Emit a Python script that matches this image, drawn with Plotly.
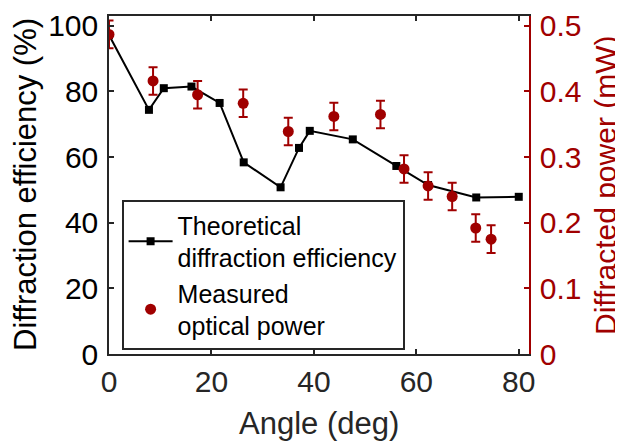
import plotly.graph_objects as go

# Theoretical diffraction efficiency (%) vs angle (deg)
theo_angle = [0, 7.8, 10.7, 16.1, 21.6, 26.3, 33.5, 37.1, 39.2, 47.6, 56.1, 62.3, 71.7, 80.0]
theo_eff = [97.2, 74.4, 81.0, 81.5, 76.5, 58.4, 50.8, 62.8, 68.0, 65.4, 57.3, 51.5, 47.7, 47.9]

# Measured optical power (mW) vs angle (deg)
meas_angle = [0, 8.6, 17.3, 26.2, 35.0, 43.9, 53.0, 57.6, 62.3, 67.0, 71.6, 74.6]
meas_power = [0.487, 0.416, 0.395, 0.382, 0.339, 0.362, 0.365, 0.282, 0.256, 0.240, 0.192, 0.175]
meas_err = [0.021] * len(meas_power)

x_ticks = [0, 20, 40, 60, 80]
y_ticks = [0, 20, 40, 60, 80, 100]
y2_ticks = [0, 0.1, 0.2, 0.3, 0.4, 0.5]
y2_labels = ["0", "0.1", "0.2", "0.3", "0.4", "0.5"]

AX = "#262626"
RED = "#A00000"
FONT = "Liberation Sans, Arial, Helvetica, sans-serif"

fig = go.Figure()
fig.add_trace(go.Scatter(
    x=theo_angle, y=theo_eff, mode="lines+markers",
    name="Theoretical<br>diffraction efficiency",
    line=dict(color="black", width=2),
    marker=dict(symbol="square", size=8, color="black"),
    yaxis="y",
))
fig.add_trace(go.Scatter(
    x=meas_angle, y=meas_power, mode="markers",
    name="Measured<br>optical power",
    marker=dict(symbol="circle", size=11, color=RED),
    error_y=dict(type="data", array=meas_err, visible=True, color=RED, thickness=2, width=4.5),
    yaxis="y2",
))

# page body adds an 8px offset; figure sized so it fits the 623x444 window
fig.update_layout(
    width=615, height=436,
    margin=dict(l=101, r=94, t=2, b=90),
    paper_bgcolor="white", plot_bgcolor="white",
    font=dict(family=FONT, size=30, color=AX),
    showlegend=True,
    legend=dict(
        x=0.030, y=0.455, xanchor="left", yanchor="top",
        bgcolor="white", bordercolor=AX, borderwidth=2,
        font=dict(size=25, color="black"),
        tracegroupgap=0, itemwidth=44,
    ),
    xaxis=dict(
        range=[0, 82], tickvals=x_ticks, ticks="inside", ticklen=5, tickwidth=1.5,
        tickcolor=AX, showline=True, linecolor=AX, linewidth=1.5, mirror="ticks",
        showgrid=False, zeroline=False, tickfont=dict(size=30, color=AX),
        ticklabeloverflow="allow",
    ),
    yaxis=dict(
        range=[0, 103], tickvals=y_ticks, ticks="inside", ticklen=5, tickwidth=1.5,
        tickcolor=AX, showline=True, linecolor=AX, linewidth=1.5,
        showgrid=False, zeroline=False, tickfont=dict(size=30, color="black"),
        ticklabeloverflow="allow", ticklabelstandoff=3,
    ),
    yaxis2=dict(
        range=[0, 0.515], tickvals=y2_ticks, ticktext=y2_labels, overlaying="y", side="right",
        ticks="inside", ticklen=5, tickwidth=1.5, tickcolor=RED,
        showline=True, linecolor=RED, linewidth=1.5,
        showgrid=False, zeroline=False, tickfont=dict(size=30, color=RED),
        ticklabeloverflow="allow", ticklabelstandoff=3,
    ),
    annotations=[
        dict(text="Diffraction efficiency (%)", xref="paper", yref="paper", x=0, y=0.5,
             xshift=-84, textangle=-90, showarrow=False, xanchor="center", yanchor="middle",
             font=dict(size=31, color="black")),
        dict(text="Diffracted power (mW)", xref="paper", yref="paper", x=1, y=0.5,
             xshift=76, textangle=-90, showarrow=False, xanchor="center", yanchor="middle",
             font=dict(size=30, color=RED)),
        dict(text="Angle (deg)", xref="paper", yref="paper", x=0.5, y=0,
             yshift=-69, showarrow=False, xanchor="center", yanchor="middle",
             font=dict(size=31, color=AX)),
    ],
)

fig.write_html("out.html")
